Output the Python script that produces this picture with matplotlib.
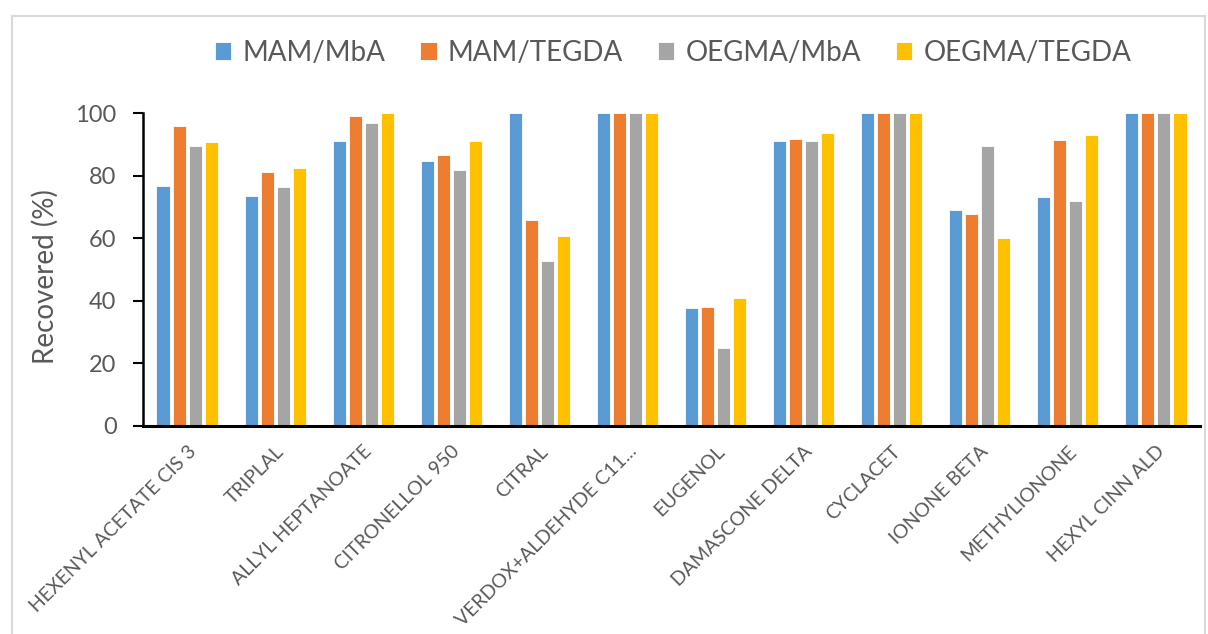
import matplotlib
matplotlib.use("Agg")
import matplotlib.pyplot as plt
import numpy as np
from matplotlib.patches import Rectangle

categories = ["HEXENYL ACETATE CIS 3", "TRIPLAL", "ALLYL HEPTANOATE", "CITRONELLOL 950",
              "CITRAL", "VERDOX+ALDEHYDE C11...", "EUGENOL", "DAMASCONE DELTA",
              "CYCLACET", "IONONE BETA", "METHYLIONONE", "HEXYL CINN ALD"]
series_names = ["MAM/MbA", "MAM/TEGDA", "OEGMA/MbA", "OEGMA/TEGDA"]
mam_mba = [76.8, 73.4, 91.1, 84.7, 100, 100, 37.7, 91.1, 100, 68.9, 73.1, 100]
mam_tegda = [95.9, 81.1, 99.2, 86.6, 65.8, 100, 38.0, 91.6, 100, 67.7, 91.4, 100]
oegma_mba = [89.3, 76.3, 96.7, 81.9, 52.8, 100, 24.8, 91.1, 100, 89.5, 71.9, 100]
oegma_tegda = [90.7, 82.4, 100, 90.9, 60.6, 100, 40.9, 93.6, 100, 60.2, 92.9, 100]
yticks = [0, 20, 40, 60, 80, 100]

plt.rcParams['font.family'] = ['Lato', 'DejaVu Sans']
colors = ["#5B9BD5", "#ED7D31", "#A5A5A5", "#FFC000"]
txt = "#595959"

fig = plt.figure(figsize=(12.08, 6.34), dpi=100)
fig.patches.append(Rectangle((12/1208, -0.05), 1193/1208, 1.05 - 16/634, transform=fig.transFigure,
                             fill=False, edgecolor="#D9D9D9", linewidth=1.5))
ax = fig.add_axes([143/1208, 1 - 426/634, (1200 - 143)/1208, (426 - 113)/634])

x = np.arange(len(categories))
step = 0.182
width = 0.148
data = [mam_mba, mam_tegda, oegma_mba, oegma_tegda]
for i, (vals, name, c) in enumerate(zip(data, series_names, colors)):
    ax.bar(x + (i - 1.5) * step, vals, width=width, color=c, label=name,
           edgecolor="white", linewidth=0.6)

ax.set_xlim(-0.5, len(categories) - 0.5)
ax.set_ylim(0, 100)
ax.set_yticks(yticks)
ax.set_yticklabels([str(v) for v in yticks], fontsize=17, color=txt)
ax.set_xticks(x)
ax.set_xticklabels(categories, rotation=45, ha="right", rotation_mode="anchor",
                   fontsize=14, color=txt)
ax.tick_params(axis="x", length=0, pad=12)
ax.tick_params(axis="y", length=7, width=1.5, color="black", pad=12, direction="out")
for s in ["top", "right"]:
    ax.spines[s].set_visible(False)
ax.spines["left"].set_linewidth(1.8)
ax.spines["bottom"].set_linewidth(2.2)
ax.spines["left"].set_color("black")
ax.spines["bottom"].set_color("black")
ax.set_ylabel("Recovered (%)", fontsize=20, color=txt)
ax.yaxis.set_label_coords(-0.08, 0.478)

leg = fig.legend(loc="center", bbox_to_anchor=(673/1208, 1 - 53/634), ncol=4, frameon=False,
                 fontsize=20, handlelength=0.6, handleheight=0.6, handletextpad=0.4,
                 columnspacing=1.25)
for t in leg.get_texts():
    t.set_color(txt)

fig.savefig("out.png", dpi=100)
